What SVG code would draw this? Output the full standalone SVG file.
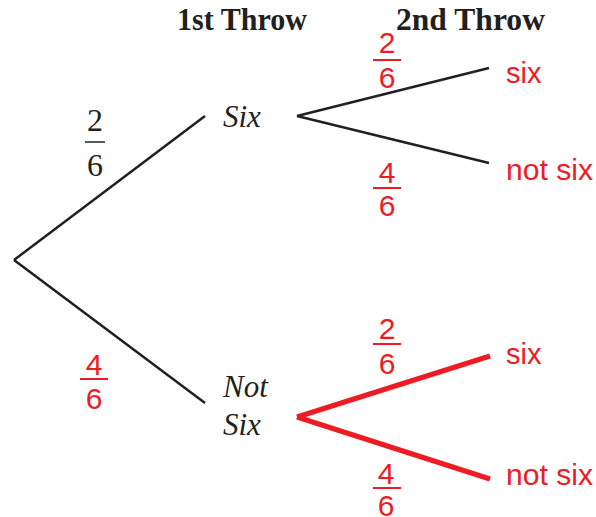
<svg xmlns="http://www.w3.org/2000/svg" width="596" height="517" viewBox="0 0 596 517">
<style>
.hdr{font-family:"Liberation Serif","Times New Roman",serif;font-weight:bold;font-size:31px;fill:#231f20}
.it{font-family:"Liberation Serif","Times New Roman",serif;font-style:italic;font-size:31px;fill:#231f20}
.num{font-family:"Liberation Serif","Times New Roman",serif;font-size:32px;fill:#231f20;text-anchor:middle}
.rnum{font-family:"Liberation Sans",Arial,sans-serif;font-size:30px;fill:#ed1c24;text-anchor:middle}
.rlab{font-family:"Liberation Sans",Arial,sans-serif;font-size:29px;fill:#ed1c24}
.bk{stroke:#231f20;stroke-width:2.5;fill:none;stroke-linecap:butt}
.rd{stroke:#ed1c24;stroke-width:5;fill:none;stroke-linecap:butt}
.bar{stroke:#231f20;stroke-width:1.5}
.rbar{stroke:#ed1c24;stroke-width:2}
</style>
<rect width="596" height="517" fill="#ffffff"/>
<g id="headers">
<text class="hdr" x="177" y="30" textLength="130" lengthAdjust="spacingAndGlyphs">1st Throw</text>
<text class="hdr" x="396" y="30" textLength="149" lengthAdjust="spacingAndGlyphs">2nd Throw</text>
</g>
<g id="connectors">
<line class="bk" x1="14" y1="260" x2="205" y2="116"/>
<line class="bk" x1="14" y1="260" x2="205" y2="403"/>
<line class="bk" x1="297" y1="116" x2="489" y2="68"/>
<line class="bk" x1="297" y1="116" x2="489" y2="163"/>
<line class="rd" x1="297" y1="417" x2="490" y2="356"/>
<line class="rd" x1="297" y1="417" x2="490" y2="479"/>
</g>
<g id="prob-first-six">
<text class="num" x="95" y="131">2</text>
<line class="bar" x1="85" y1="142" x2="105" y2="142"/>
<text class="num" x="95" y="176">6</text>
</g>
<g id="prob-first-notsix">
<text class="rnum" x="94" y="375">4</text>
<line class="rbar" x1="80" y1="379" x2="108" y2="379"/>
<text class="rnum" x="94" y="409">6</text>
</g>
<g id="node-six">
<text class="it" x="223" y="127">Six</text>
</g>
<g id="node-notsix">
<text class="it" x="223" y="397">Not</text>
<text class="it" x="223" y="435">Six</text>
</g>
<g id="prob-six-six">
<text class="rnum" x="387" y="53">2</text>
<line class="rbar" x1="373" y1="60" x2="401" y2="60"/>
<text class="rnum" x="387" y="88">6</text>
</g>
<g id="prob-six-notsix">
<text class="rnum" x="387" y="183">4</text>
<line class="rbar" x1="373" y1="188" x2="401" y2="188"/>
<text class="rnum" x="387" y="216">6</text>
</g>
<g id="prob-notsix-six">
<text class="rnum" x="387" y="339">2</text>
<line class="rbar" x1="373" y1="344" x2="401" y2="344"/>
<text class="rnum" x="387" y="374">6</text>
</g>
<g id="prob-notsix-notsix">
<text class="rnum" x="386" y="484">4</text>
<line class="rbar" x1="373" y1="488" x2="401" y2="488"/>
<text class="rnum" x="386" y="516">6</text>
</g>
<g id="leaf-six-six"><text class="rlab" x="506" y="83">six</text></g>
<g id="leaf-six-notsix"><text class="rlab" x="506" y="180" textLength="87" lengthAdjust="spacingAndGlyphs">not six</text></g>
<g id="leaf-notsix-six"><text class="rlab" x="506" y="364">six</text></g>
<g id="leaf-notsix-notsix"><text class="rlab" x="506" y="485" textLength="87" lengthAdjust="spacingAndGlyphs">not six</text></g>
</svg>
